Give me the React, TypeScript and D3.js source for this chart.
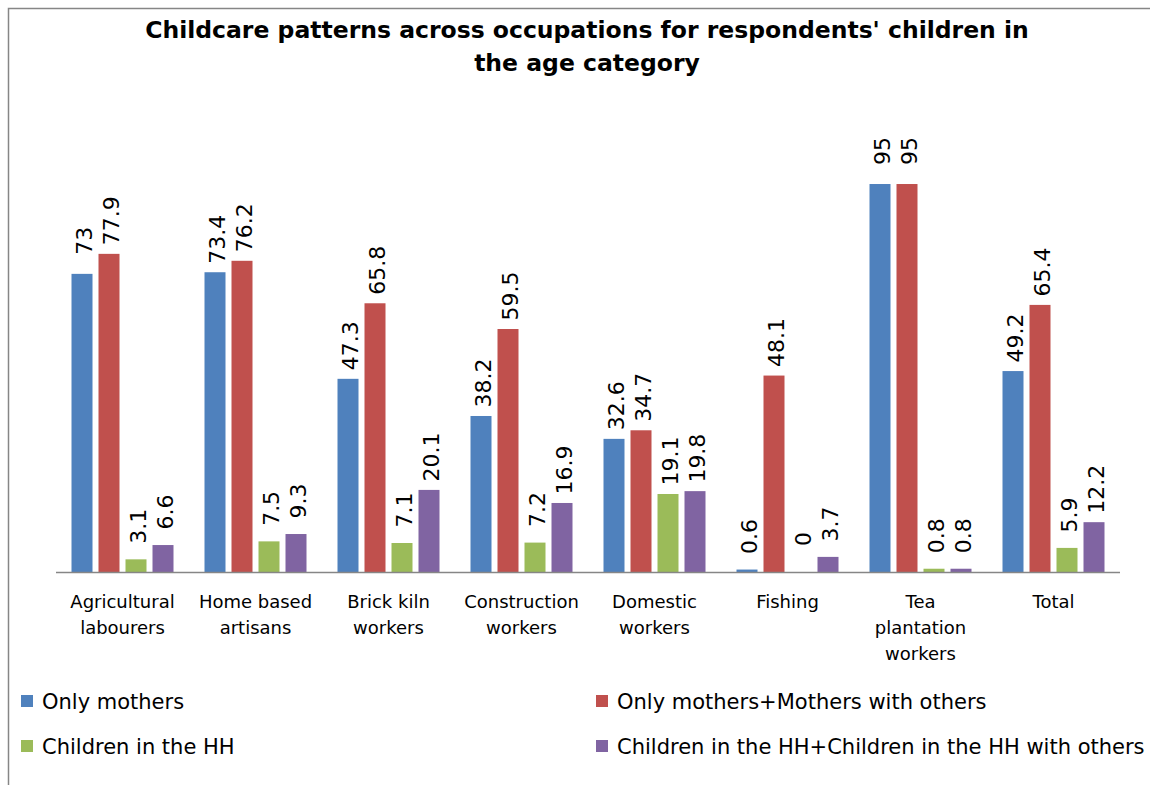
import React, { useEffect, useRef } from "react";
import * as d3 from "d3";

const categories: string[][] = [
  ["Agricultural", "labourers"],
  ["Home based", "artisans"],
  ["Brick kiln", "workers"],
  ["Construction", "workers"],
  ["Domestic", "workers"],
  ["Fishing"],
  ["Tea", "plantation", "workers"],
  ["Total"],
];
const seriesNames = [
  "Only mothers",
  "Only mothers+Mothers with others",
  "Children in the HH",
  "Children in the HH+Children in the HH with others",
];
const colors = ["#4F81BD", "#C0504D", "#9BBB59", "#8064A2"];
const onlyMothers = [73, 73.4, 47.3, 38.2, 32.6, 0.6, 95, 49.2];
const mothersWithOthers = [77.9, 76.2, 65.8, 59.5, 34.7, 48.1, 95, 65.4];
const childrenHH = [3.1, 7.5, 7.1, 7.2, 19.1, 0, 0.8, 5.9];
const childrenHHOthers = [6.6, 9.3, 20.1, 16.9, 19.8, 3.7, 0.8, 12.2];
const series = [onlyMothers, mothersWithOthers, childrenHH, childrenHHOthers];
const titleLines = [
  "Childcare patterns across occupations for respondents' children in",
  "the age category",
];

const W = 1150;
const H = 785;
const FONT = "Tahoma, 'DejaVu Sans', Verdana, sans-serif";

export default function App() {
  const ref = useRef<SVGSVGElement>(null);
  useEffect(() => {
    const svg = d3.select(ref.current);
    svg.selectAll("*").remove();
    svg.append("rect").attr("width", W).attr("height", H).attr("fill", "#fff");
    // frame
    svg.append("path")
      .attr("d", `M8.5,${H} V8.5 H${W}`)
      .attr("fill", "none")
      .attr("stroke", "#868686")
      .attr("stroke-width", 1.5);

    const left = 56, right = 1120, base = 572, top = 163.6;
    const x0 = d3.scaleBand<number>().domain(d3.range(categories.length)).range([left, right]).padding(0);
    const y = d3.scaleLinear().domain([0, 100]).range([base, top]);
    const barW = 21, gap = 6;
    const groupW = 4 * barW + 3 * gap;
    const labelSize = 22;

    // title
    const t = svg.append("text")
      .attr("text-anchor", "middle")
      .attr("font-family", FONT)
      .attr("font-weight", "bold")
      .attr("font-size", 23.5)
      .attr("fill", "#000");
    titleLines.forEach((l, i) => {
      t.append("tspan").attr("x", 587).attr("y", 38 + i * 33).text(l);
    });

    const g = svg.append("g");
    categories.forEach((cat, ci) => {
      const cx = x0(ci)! + x0.bandwidth() / 2;
      const start = cx - groupW / 2;
      series.forEach((s, si) => {
        const v = s[ci];
        const bx = start + si * (barW + gap);
        g.append("rect")
          .attr("x", bx)
          .attr("y", y(v))
          .attr("width", barW)
          .attr("height", base - y(v))
          .attr("fill", colors[si]);
        const lx = bx + barW / 2 + 1.5 + labelSize * 0.365;
        const ly = y(v) - 33;
        g.append("text")
          .attr("transform", `translate(${lx},${ly}) rotate(-90)`)
          .attr("text-anchor", "middle")
          .attr("font-family", FONT)
          .attr("font-size", labelSize)
          .attr("fill", "#000")
          .text(String(v));
      });
      const lt = g.append("text")
        .attr("text-anchor", "middle")
        .attr("font-family", FONT)
        .attr("font-size", 18)
        .attr("fill", "#000");
      cat.forEach((line, li) => {
        lt.append("tspan").attr("x", cx).attr("y", 608 + li * 26).text(line);
      });
    });

    // axis line
    svg.append("line")
      .attr("x1", left).attr("x2", right)
      .attr("y1", base + 0.5).attr("y2", base + 0.5)
      .attr("stroke", "#868686").attr("stroke-width", 1.5);

    // legend
    const legPos = [
      [21, 701], [596, 701], [21, 746], [596, 746],
    ];
    seriesNames.forEach((n, i) => {
      const [lx, ly] = legPos[i];
      svg.append("rect").attr("x", lx).attr("y", ly - 6).attr("width", 12).attr("height", 12).attr("fill", colors[i]);
      svg.append("text")
        .attr("x", lx + 21)
        .attr("y", ly + 7.5)
        .attr("font-family", FONT)
        .attr("font-size", 21)
        .attr("fill", "#000")
        .text(n);
    });
  }, []);
  return (
    <svg
      ref={ref}
      width={W}
      height={H}
      style={{ position: "absolute", left: 0, top: 0, display: "block" }}
    />
  );
}
